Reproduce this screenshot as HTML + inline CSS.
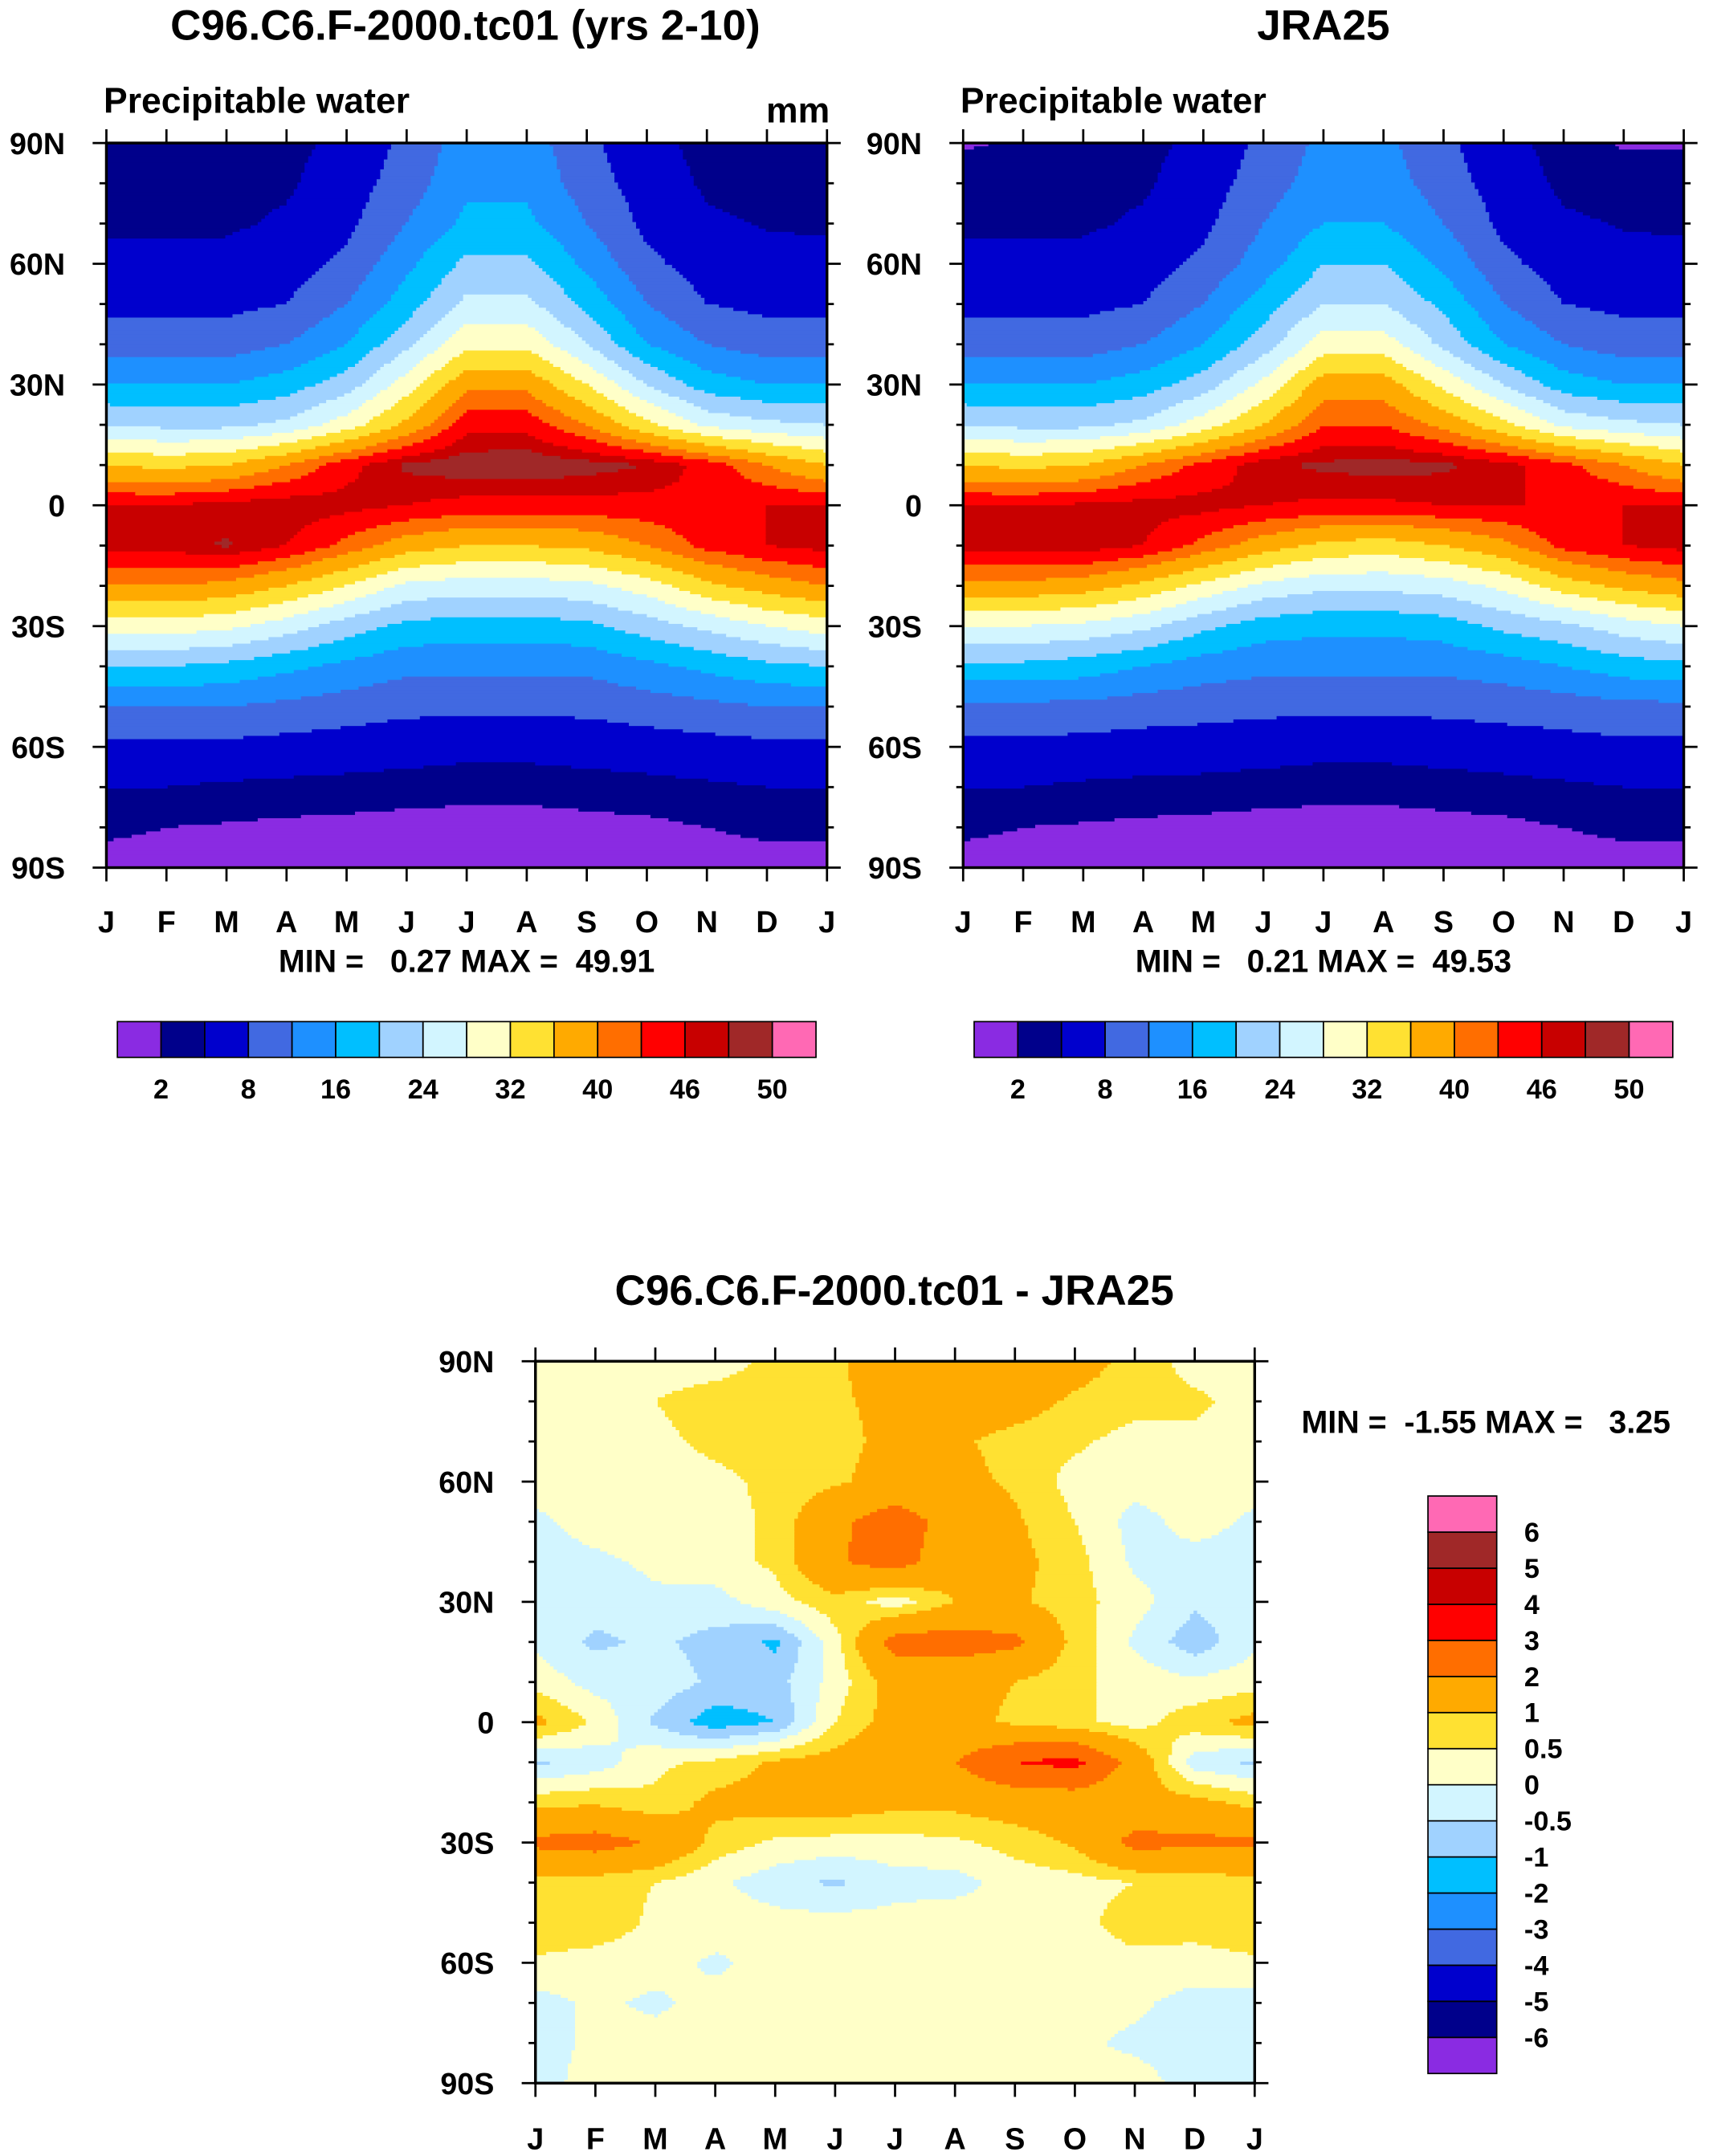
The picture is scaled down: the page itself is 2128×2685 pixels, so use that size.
<!DOCTYPE html>
<html>
<head>
<meta charset="utf-8">
<style>
html,body{margin:0;padding:0;background:#fff;}
svg{display:block;}
text{font-family:"Liberation Sans",Arial,sans-serif;font-weight:bold;fill:#000;}
</style>
</head>
<body>
<svg id="fig" xmlns="http://www.w3.org/2000/svg" width="2128" height="2685" viewBox="0 0 1242 1568">
  <rect x="0" y="0" width="1242" height="1568" fill="#fff"/>
  <g id="p1"></g>
  <g id="p2"></g>
  <g id="p3"></g>

  <text x="338" y="29" font-size="31" text-anchor="middle">C96.C6.F-2000.tc01 (yrs 2-10)</text>
  <text x="75" y="82" font-size="26">Precipitable water</text>
  <text x="603" y="89" font-size="26" text-anchor="end">mm</text>
  <text x="962" y="29" font-size="31" text-anchor="middle">JRA25</text>
  <text x="698" y="82" font-size="26">Precipitable water</text>
  <text x="339" y="707" font-size="23" text-anchor="middle" xml:space="preserve">MIN =   0.27 MAX =  49.91</text>
  <text x="962" y="707" font-size="23" text-anchor="middle" xml:space="preserve">MIN =   0.21 MAX =  49.53</text>
  <text x="650" y="949" font-size="31" text-anchor="middle">C96.C6.F-2000.tc01 - JRA25</text>
  <text x="946" y="1042" font-size="23" xml:space="preserve">MIN =  -1.55 MAX =   3.25</text>
</svg>
<script>
const months = ["J","F","M","A","M","J","J","A","S","O","N","D","J"];
const latLabels = ["90N","60N","30N","0","30S","60S","90S"];
const lats = [90,80,70,60,50,40,30,20,10,0,-10,-20,-30,-40,-50,-60,-70,-80,-90];
const meanLevels = [2,4,8,12,16,20,24,28,32,36,40,43,46,48,50];
const meanLabels = ["2","8","16","24","32","40","46","50"];
const diffLevels = [-6,-5,-4,-3,-2,-1,-0.5,0,0.5,1,2,3,4,5,6];
const diffLabels = ["-6","-5","-4","-3","-2","-1","-0.5","0","0.5","1","2","3","4","5","6"];
const colors = ["#8a2be2","#00008b","#0000cd","#4169e1","#1e90ff","#00bfff","#a0d2ff","#d2f5ff","#ffffc8","#ffe132","#ffaa00","#ff6e00","#ff0000","#c80000","#a02828","#ff69b4"];

// model: rows = lats, cols = J..D
const modelData = [
 [2.5,2.5,2.5,3,5,9,14,14,9,5,3,2.5],
 [3,3,3,3.5,6,10,15,15,10,6,3.5,3],
 [3.5,3.5,3.5,4.5,7,12,17,17,12,7,4.5,3.8],
 [5,5,5,6,9,15,21,21,15,9,6,5],
 [7,7,7,8,12,18,25,25,19,12,8,7],
 [10,10,10,12,16,23,31,31,24,16,12,10],
 [16,16,16,18,22,30,39,39,32,24,18,16],
 [24,23,23,25,30,37,45,45,40,33,27,25],
 [36,35,36,40,45,48.5,49.5,49.8,49,48,45,40],
 [46,46,47,47.5,47,46,45,45,45,45,45.5,46],
 [47,47,48.3,46,42,38,36,36,37,40,44,46],
 [40,40,39,36,32,27,26,26,27,30,35,38],
 [30,30,29,26,22,19,18,18,19,22,25,28],
 [20,20,19,17,15,13,13,13,13,15,17,19],
 [12,12,12,11,10,9,9,9,9,10,11,12],
 [7,7,7,6.5,6,5.5,5,5,5.5,6,6.5,7],
 [4,4,3.5,3.2,3,2.7,2.5,2.5,2.7,3,3.5,4],
 [2.5,2,1.8,1.6,1.5,1.4,1.4,1.4,1.5,1.6,2,2.5],
 [1,1,1,1,1,1,1,1,1,1,1,1]
];
const obsData = [
 [1.8,2.2,2.5,3,5,9,13,13,9,5,2.8,1.8],
 [2.8,3,3,3.5,6,10,14,14,10,6,3.3,2.8],
 [3.5,3.5,3.5,4.5,7,12,16,16,12,7,4.5,3.8],
 [5,5,5,6,9,14,20,20,15,9,6,5],
 [7,7,7,8,12,18,24,24,19,12,8,7],
 [10,10,10,12,16,22,30,30,23,16,12,10],
 [16,16,16,18,22,29,38,38,31,24,18,16],
 [24,23,23,25,30,36,43,43,39,33,27,25],
 [36,35,36,40,44,47.5,48.5,49,48.5,47,44,40],
 [46,46,46.5,47,47,46,45.5,45.5,46,46,46,46],
 [47,47,47.5,46,42,38,35,34,36,39,44,46],
 [39,39,38,35,31,27,25,25,26,29,34,37],
 [28,28,27,25,21,18,17,17,18,21,23,26],
 [19,19,18,16,14,13,13,13,13,14,16,18],
 [11,11,11,10,9.5,9,9,9,9,9.5,10,11],
 [7,7,6.5,6.2,6,5.5,5,5,5.5,6,6.5,7],
 [4,4,3.5,3.2,3,2.7,2.5,2.5,2.7,3,3.5,4],
 [2.5,2,1.8,1.6,1.5,1.4,1.4,1.4,1.5,1.6,2,2.5],
 [1,1,1,1,1,1,1,1,1,1,1,1]
];
const diffData = [
 [0.3,0.3,0.3,0.3,0.6,0.9,1.4,1.5,1.5,1.3,0.8,0.3],
 [0.3,0.3,0.5,0.7,0.8,0.9,1.2,1.4,1.3,0.9,0.7,0.6],
 [0.2,0.3,0.4,0.6,0.7,0.8,1.2,1.1,0.8,0.6,0.3,0.4],
 [0.2,0.3,0.3,0.4,0.6,0.9,1.3,1.2,0.9,0.3,0.2,0.3],
 [-0.1,0.2,0.3,0.3,0.6,1.8,2.5,1.6,1.1,0.5,-0.2,0.2],
 [-0.2,-0.1,0.1,0.3,0.6,1.9,2.4,1.4,1.2,0.7,-0.1,-0.2],
 [-0.2,-0.3,-0.1,-0.2,0.3,0.8,0.2,1.0,1.1,0.7,0.2,-0.4],
 [-0.1,-0.6,-0.4,-0.7,-1.1,0.3,2.4,2.5,2.2,0.8,-0.1,-0.8],
 [0.3,-0.2,-0.2,-0.6,-0.7,0.2,1.3,1.2,1.0,0.6,0.3,0.1],
 [1.2,0.4,-0.6,-1.3,-1.0,0.5,1.3,1.2,0.9,0.6,0.3,0.8],
 [-0.6,-0.3,0.4,0.6,1.1,1.3,1.6,2.0,3.0,3.3,1.6,-0.3],
 [0.8,0.9,0.6,1.2,1.3,1.4,1.2,1.2,1.4,1.4,1.3,1.2],
 [2.2,2.4,1.9,0.8,0.4,0.3,0.3,0.4,0.7,1.1,2.3,2.2],
 [0.8,0.7,0.5,0.1,-0.3,-0.6,-0.2,-0.2,0.2,0.3,0.5,0.6],
 [0.9,0.8,0.4,0.3,0.2,0.2,0.2,0.3,0.3,0.3,0.8,0.7],
 [0.4,0.3,0.2,-0.1,0.2,0.2,0.2,0.2,0.2,0.2,0.3,0.3],
 [-0.2,0.1,-0.1,0.2,0.2,0.2,0.2,0.2,0.2,0.2,0.1,-0.2],
 [-0.2,0.1,0.2,0.2,0.2,0.2,0.2,0.2,0.2,0.1,-0.1,-0.2],
 [-0.2,0.2,0.2,0.2,0.2,0.2,0.2,0.2,0.2,0.2,0.2,-0.2]
];

const NS = "http://www.w3.org/2000/svg";
function mk(tag, attrs, parent) {
  const el = document.createElementNS(NS, tag);
  for (const k in attrs) el.setAttribute(k, attrs[k]);
  parent.appendChild(el);
  return el;
}
function levelIndex(v, levels) {
  let k = 0;
  while (k < levels.length && v >= levels[k]) k++;
  return k;
}
function sample(data, m, li) {
  const m0 = Math.floor(m), fm = m - m0;
  const r0 = Math.min(Math.floor(li), lats.length - 2), fr = li - r0;
  const c0 = m0 % 12, c1 = (m0 + 1) % 12;
  const a = data[r0][c0] * (1 - fm) + data[r0][c1] * fm;
  const b = data[r0 + 1][c0] * (1 - fm) + data[r0 + 1][c1] * fm;
  return a * (1 - fr) + b * fr;
}

function drawPanel(g, data, levels, x0, y0, w, h, tickLen, labelSize, xLabelY) {
  const xScale = m => x0 + m / 12 * w;
  const yScale = lat => y0 + (90 - lat) / 180 * h;
  const nsx = 200, nsy = 220;
  const fill = mk("g", {}, g);
  
  
  for (let j = 0; j < nsy; j++) {
    const latTop = 90 - j / nsy * 180, latBot = 90 - (j + 1) / nsy * 180;
    const li = ((j + 0.5) / nsy) * 18;
    let runStart = 0, runCol = -1;
    for (let i = 0; i <= nsx; i++) {
      let col = -2;
      if (i < nsx) {
        const m = (i + 0.5) / nsx * 12;
        col = levelIndex(sample(data, m, li), levels);
      }
      if (col !== runCol) {
        if (runCol >= 0) {
          const xa = xScale(runStart / nsx * 12), xb = xScale(i / nsx * 12);
          const r = mk("rect", {x: xa.toFixed(2), y: yScale(latTop).toFixed(2), width: (xb - xa + 0.6).toFixed(2), height: (yScale(latBot) - yScale(latTop) + 0.6).toFixed(2), fill: colors[runCol]}, fill);
          
          
        }
        runCol = col; runStart = i;
      }
    }
  }
  const frame = mk("rect", {x: x0, y: y0, width: w, height: h, fill: "none", stroke: "#000", "stroke-width": 2}, g);
  
  
  const ticks = mk("g", {stroke: "#000", "stroke-width": 1.6}, g);
  
  
  for (let m = 0; m <= 12; m++) {
    const x = xScale(m);
    mk("line", {x1: x, y1: y0 + h, x2: x, y2: y0 + h + tickLen}, ticks);
    mk("line", {x1: x, y1: y0, x2: x, y2: y0 - tickLen}, ticks);
    const t = mk("text", {x: x, y: xLabelY, "font-size": labelSize, "text-anchor": "middle", stroke: "none"}, g);
    t.textContent = months[m];
    
    
  }
  for (let lat = 90; lat >= -90; lat -= 10) {
    const y = yScale(lat);
    const len = (lat % 30 === 0) ? tickLen : tickLen * 0.5;
    mk("line", {x1: x0, y1: y, x2: x0 - len, y2: y}, ticks);
    mk("line", {x1: x0 + w, y1: y, x2: x0 + w + len, y2: y}, ticks);
  }
  latLabels.forEach((lab, k) => {
    const y = yScale(90 - k * 30);
    const t = mk("text", {x: x0 - 30, y: y + 8, "font-size": labelSize, "text-anchor": "end"}, g);
    t.textContent = lab;
    
    
  });
}

function hColorbar(g, x0, y0, w, h) {
  const bw = w / 16;
  colors.forEach((c, k) => {
    const r = mk("rect", {x: x0 + k * bw, y: y0, width: bw, height: h, fill: c, stroke: "#000", "stroke-width": 1}, g);
    
    
  });
  meanLabels.forEach((lab, k) => {
    const t = mk("text", {x: x0 + (2 * k + 1) * bw, y: y0 + h + 30, "font-size": 20, "text-anchor": "middle"}, g);
    t.textContent = lab;
    
    
  });
}
function vColorbar(g, x0, y0, w, h) {
  const bh = h / 16;
  colors.forEach((c, k) => {
    const r = mk("rect", {x: x0, y: y0 + h - (k + 1) * bh, width: w, height: bh, fill: c, stroke: "#000", "stroke-width": 1}, g);
    
    
  });
  diffLabels.forEach((lab, k) => {
    const t = mk("text", {x: x0 + w + 20, y: y0 + h - (k + 1) * bh + 7, "font-size": 20}, g);
    t.textContent = lab;
    
    
  });
}

const p1 = document.getElementById("p1"), p2 = document.getElementById("p2"), p3 = document.getElementById("p3");
drawPanel(p1, modelData, meanLevels, 77, 104, 524, 527, 10, 22, 678);
drawPanel(p2, obsData, meanLevels, 700, 104, 524, 527, 10, 22, 678);
drawPanel(p3, diffData, diffLevels, 389, 990, 523, 525, 10, 22, 1563);
const cb1 = mk("g", {}, p1);  
hColorbar(cb1, 85, 743, 508, 26);
const cb2 = mk("g", {}, p2);  
hColorbar(cb2, 708, 743, 508, 26);
const cb3 = mk("g", {}, p3);  
vColorbar(cb3, 1038, 1088, 50, 420);
</script>
</body>
</html>
